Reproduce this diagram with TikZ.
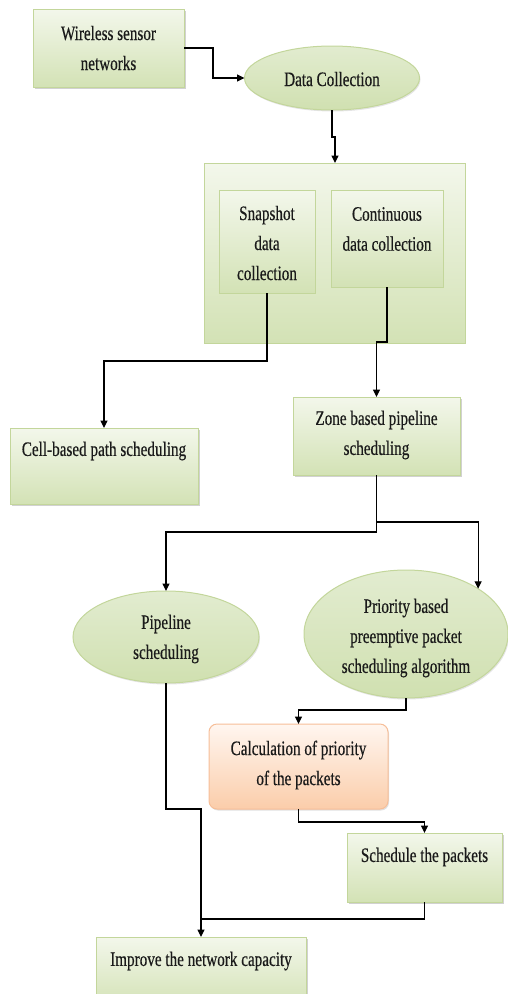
\documentclass[tikz,border=0pt]{standalone}
\usepackage{fontspec}
\setmainfont{Liberation Serif}[FakeStretch=0.74,FakeBold=0.4]
\usetikzlibrary{shapes.geometric,arrows.meta,shadows}
\definecolor{gtop}{HTML}{F3F7EB}
\definecolor{gbot}{HTML}{D3E2B5}
\definecolor{gline}{HTML}{C3D69B}
\definecolor{otop}{HTML}{FFF6F0}
\definecolor{obot}{HTML}{FBCDAA}
\definecolor{oline}{HTML}{F6BE98}
\definecolor{etop}{HTML}{E2ECD0}
\definecolor{emid}{HTML}{F1F6E8}
\definecolor{ebot}{HTML}{D0E0B0}
\definecolor{txt}{HTML}{1A1A1A}
\tikzset{
  gbox/.style={draw=gline, line width=1pt, top color=gtop, bottom color=gbot,
    inner sep=0pt, outer sep=0pt, anchor=north west,
    drop shadow={shadow xshift=1.5pt, shadow yshift=-2pt, fill=black!40, opacity=0.45}},
  ibox/.style={draw=gline, line width=1pt, top color=gtop, bottom color=gbot,
    inner sep=0pt, outer sep=0pt, anchor=north west},
  obox/.style={draw=oline, line width=1pt, top color=otop, bottom color=obot,
    rounded corners=8pt, inner sep=0pt, outer sep=0pt, anchor=north west,
    drop shadow={shadow xshift=1pt, shadow yshift=-1.5pt, fill=black!30, opacity=0.4}},
  gell/.style={ellipse, draw=gline, line width=1pt, top color=etop, middle color=emid, bottom color=ebot,
    inner sep=0pt, outer sep=0pt,
    drop shadow={shadow xshift=1pt, shadow yshift=-1.5pt, fill=black!30, opacity=0.35}},
  lbl/.style={align=center, inner sep=0pt, text=txt, font=\fontsize{20.5}{30}\selectfont},
  arr/.style={draw=black, line width=1.1pt, -{Triangle[width=7pt,length=7.5pt]}},
  ln/.style={draw=black, line width=1.1pt},
}
\begin{document}
\begin{tikzpicture}[x=1pt, y=-1pt]
\useasboundingbox (0,0) rectangle (508,994);

% boxes
\node[gbox, minimum width=151pt, minimum height=78pt] (wsn) at (33,9) {};
\node[lbl] (wsnt) at (108.5,48) {Wireless sensor\\networks};

\node[gell, minimum width=175pt, minimum height=64pt] (dc) at (332,78) {};
\node[lbl] (dct) at (332,79) {Data Collection};

\node[ibox, minimum width=261pt, minimum height=180pt] (big) at (204,163) {};
\node[ibox, minimum width=96pt, minimum height=103pt] (snap) at (219,190) {};
\node[lbl] (snapt) at (267,243) {Snapshot\\data\\collection};
\node[ibox, minimum width=112pt, minimum height=97pt] (cont) at (331,190) {};
\node[lbl] (contt) at (387,229) {Continuous\\data collection};

\node[gbox, minimum width=188pt, minimum height=76pt] (cell) at (10,428) {};
\node[lbl] (cellt) at (104,451) {Cell-based path scheduling};

\node[gbox, minimum width=167pt, minimum height=78pt] (zone) at (293,397) {};
\node[lbl] (zonet) at (376.5,435) {Zone based pipeline\\scheduling};

\node[gell, minimum width=186pt, minimum height=92pt] (pipe) at (166,637) {};
\node[lbl] (pipet) at (166,639) {Pipeline\\scheduling};

\node[gell, minimum width=204pt, minimum height=128pt] (prio) at (406,634) {};
\node[lbl] (priot) at (406,638) {Priority based\\preemptive packet\\scheduling algorithm};

\node[obox, minimum width=179pt, minimum height=85pt] (calc) at (209,724) {};
\node[lbl] (calct) at (298.5,765) {Calculation of priority\\of the packets};

\node[gbox, minimum width=155pt, minimum height=69pt] (sched) at (347,833) {};
\node[lbl] (schedt) at (424.5,857) {Schedule the packets};

\node[gbox, minimum width=210pt, minimum height=70pt] (imp) at (96,937) {};
\node[lbl] (impt) at (201,961) {Improve the network capacity};

\coordinate (j) at (201,919);

% connectors
\draw[arr] (wsn.east) -- ++(29,0) |- (dc.west);
\draw[arr] (dc.south) -- ++(0,27) -- ++(3,0) -- (big.north -| 335,0);
\draw[arr] (snap.south) -- ++(0,68) -| (cell.north);
\draw[arr] (cont.south) -- ++(0,55) -| (zone.north);
\draw[arr] (zone.south) -- ++(0,47) -| (prio.north east);
\draw[arr] (zone.south) -- ++(0,57) -| (pipe.north);
\draw[arr] (prio.south) -- ++(0,12) -| (calc.north);
\draw[arr] (calc.south) -- ++(0,13) -| (sched.north);
\draw[arr] (pipe.south) -- ++(0,126) -| (imp.north);
\draw[ln] (sched.south) |- (j);
\end{tikzpicture}
\end{document}
